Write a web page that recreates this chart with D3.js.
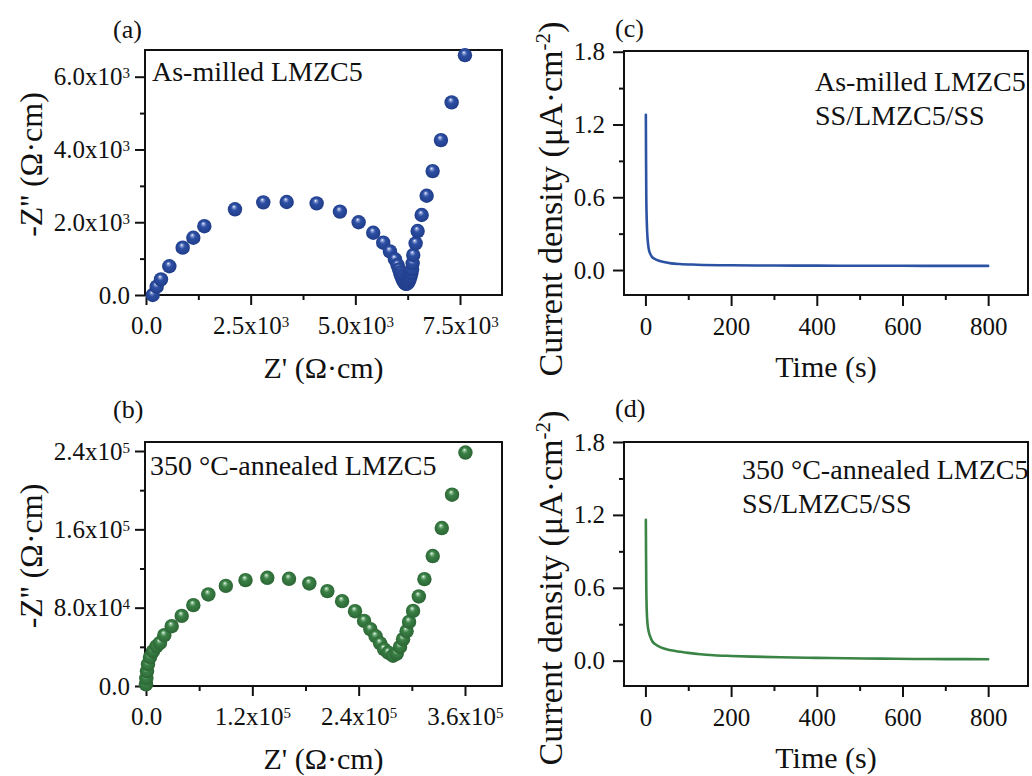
<!DOCTYPE html>
<html>
<head>
<meta charset="utf-8">
<script src="https://cdn.jsdelivr.net/npm/d3@7"></script>
<style>
  html, body { margin: 0; padding: 0; background: #fff; }
  svg { display: block; }
  text { font-family: "Liberation Serif", "Times New Roman", serif; fill: #111; }
</style>
</head>
<body>
<svg id="chart" width="1032" height="776"></svg>
<script>
// ---------------- DATA ----------------
// (a) As-milled LMZC5 Nyquist: [Z', -Z''] in ohm·cm
const nyquistAsMilled = [
  [160, 0], [255, 228], [358, 428], [557, 791], [876, 1301], [1130, 1574], [1393, 1891],
  [2125, 2355], [2801, 2546], [3360, 2557], [4076, 2519], [4632, 2292], [5079, 2000],
  [5427, 1711], [5666, 1438], [5826, 1200], [5946, 982], [6010, 820], [6045, 700],
  [6072, 610], [6092, 540], [6112, 480], [6132, 430], [6152, 385], [6172, 345],
  [6192, 318], [6212, 305], [6232, 312], [6255, 340], [6278, 385], [6298, 440],
  [6318, 510], [6338, 600], [6355, 710], [6369, 871], [6383, 1099], [6440, 1420],
  [6488, 1758], [6584, 2198], [6703, 2728], [6846, 3406], [7045, 4258], [7300, 5294],
  [7618, 6593]
];
// (b) 350 °C-annealed LMZC5 Nyquist: [Z', -Z''] in ohm·cm
const nyquistAnnealed = [
  [0, 1700], [340, 7900], [1130, 15000], [2260, 22200], [4500, 29400], [7900, 35500],
  [11850, 40600], [15800, 44000], [20660, 51870], [29000, 61070], [40300, 71600],
  [53400, 82560], [70330, 93500], [90100, 102300], [112300, 108100], [136900, 110500],
  [161400, 109500], [184300, 104750], [204700, 96900], [221300, 86650], [235900, 76400],
  [246100, 66500], [253200, 58000], [259100, 50840], [264200, 43680], [268700, 37540],
  [273500, 33960], [278800, 30900], [283000, 33150], [286700, 39900], [290100, 47800],
  [294100, 55960], [296900, 65470], [301400, 76700], [307900, 91460], [314200, 109150],
  [323600, 132700], [333800, 161300], [345400, 195400], [360500, 238400]
];
// (c) As-milled: [time s, current density µA·cm-2]
const currentAsMilled = [
  [1, 1.28], [1.5, 0.9], [2, 0.62], [3, 0.42], [4, 0.32], [6, 0.22], [8, 0.17],
  [11, 0.135], [15, 0.11], [20, 0.095], [30, 0.078], [40, 0.068], [60, 0.055],
  [80, 0.049], [120, 0.044], [200, 0.039], [300, 0.037], [400, 0.036], [500, 0.035],
  [600, 0.035], [700, 0.034], [800, 0.034]
];
// (d) 350 °C-annealed
const currentAnnealed = [
  [1, 1.16], [1.5, 0.85], [2, 0.62], [3, 0.42], [5, 0.3], [7, 0.25], [9, 0.22],
  [12, 0.19], [16, 0.16], [21, 0.14], [30, 0.12], [43, 0.1], [60, 0.085], [82, 0.073],
  [100, 0.064], [128, 0.053], [160, 0.045], [200, 0.039], [250, 0.033], [315, 0.028],
  [400, 0.023], [470, 0.02], [550, 0.017], [626, 0.014], [700, 0.013], [800, 0.012]
];

// Tick values and labels
const ticksAx = [0, 2500, 5000, 7500], minorAx = [1250, 3750, 6250];
const labelsAx = [["0.0", ""], ["2.5x10", "3"], ["5.0x10", "3"], ["7.5x10", "3"]];
const ticksAy = [0, 2000, 4000, 6000], minorAy = [1000, 3000, 5000];
const labelsAy = [["0.0", ""], ["2.0x10", "3"], ["4.0x10", "3"], ["6.0x10", "3"]];
const ticksBx = [0, 120000, 240000, 360000], minorBx = [60000, 180000, 300000];
const labelsBx = [["0.0", ""], ["1.2x10", "5"], ["2.4x10", "5"], ["3.6x10", "5"]];
const ticksBy = [0, 80000, 160000, 240000], minorBy = [40000, 120000, 200000];
const labelsBy = [["0.0", ""], ["8.0x10", "4"], ["1.6x10", "5"], ["2.4x10", "5"]];
const ticksTx = [0, 200, 400, 600, 800], minorTx = [100, 300, 500, 700];
const labelsTx = [["0", ""], ["200", ""], ["400", ""], ["600", ""], ["800", ""]];
const ticksJy = [0, 0.6, 1.2, 1.8], minorJy = [0.3, 0.9, 1.5];
const labelsJy = [["0.0", ""], ["0.6", ""], ["1.2", ""], ["1.8", ""]];

// ---------------- DRAW ----------------
const svg = d3.select("#chart");
const defs = svg.append("defs");

function sphereGrad(id, light, base, dark) {
  const g = defs.append("radialGradient").attr("id", id)
    .attr("cx", "0.5").attr("cy", "0.5").attr("r", "0.55")
    .attr("fx", "0.42").attr("fy", "0.3");
  g.append("stop").attr("offset", "0%").attr("stop-color", "#ffffff");
  g.append("stop").attr("offset", "14%").attr("stop-color", light);
  g.append("stop").attr("offset", "38%").attr("stop-color", base);
  g.append("stop").attr("offset", "100%").attr("stop-color", dark);
}
sphereGrad("gBlue", "#8ea2d8", "#2d4fa3", "#1e3a85");
sphereGrad("gGreen", "#93c39a", "#3a8045", "#2a6233");

function labelText(sel, labels, ticks, supSize) {
  sel.selectAll(".tick text").each(function(d) {
    const i = ticks.indexOf(d);
    const t = d3.select(this).text("");
    t.append("tspan").text(labels[i][0]);
    if (labels[i][1]) {
      t.append("tspan").attr("dy", "-0.45em").attr("font-size", supSize).text(labels[i][1]);
    }
  });
}

function panel(cfg) {
  const g = svg.append("g");
  const x = d3.scaleLinear().domain(cfg.xDomain).range([cfg.left, cfg.right]);
  const y = d3.scaleLinear().domain(cfg.yDomain).range([cfg.bottom, cfg.top]);

  // x axis major
  const gx = g.append("g").attr("transform", `translate(0,${cfg.bottom})`)
    .call(d3.axisBottom(x).tickValues(cfg.xTicks).tickSize(cfg.tickLen).tickPadding(8));
  gx.select(".domain").remove();
  gx.selectAll(".tick line").attr("stroke", "#111").attr("stroke-width", 2);
  gx.selectAll(".tick text").attr("font-size", 25).attr("fill", "#111")
    .attr("y", cfg.xLabelY).attr("dy", 0);
  labelText(gx, cfg.xLabels, cfg.xTicks, 15);
  const gxm = g.append("g").attr("transform", `translate(0,${cfg.bottom})`)
    .call(d3.axisBottom(x).tickValues(cfg.xMinor).tickSize(5).tickFormat(""));
  gxm.select(".domain").remove();
  gxm.selectAll(".tick line").attr("stroke", "#111").attr("stroke-width", 2);

  // y axis major
  const gy = g.append("g").attr("transform", `translate(${cfg.left},0)`)
    .call(d3.axisLeft(y).tickValues(cfg.yTicks).tickSize(cfg.tickLen).tickPadding(cfg.yPad));
  gy.select(".domain").remove();
  gy.selectAll(".tick line").attr("stroke", "#111").attr("stroke-width", 2);
  gy.selectAll(".tick text").attr("font-size", 25).attr("fill", "#111");
  labelText(gy, cfg.yLabels, cfg.yTicks, 15);
  const gym = g.append("g").attr("transform", `translate(${cfg.left},0)`)
    .call(d3.axisLeft(y).tickValues(cfg.yMinor).tickSize(5).tickFormat(""));
  gym.select(".domain").remove();
  gym.selectAll(".tick line").attr("stroke", "#111").attr("stroke-width", 2);

  // frame
  g.append("rect").attr("x", cfg.left).attr("y", cfg.top)
    .attr("width", cfg.right - cfg.left).attr("height", cfg.bottom - cfg.top)
    .attr("fill", "none").attr("stroke", "#111").attr("stroke-width", 2);

  // data
  if (cfg.type === "scatter") {
    g.append("g").selectAll("circle").data(cfg.data).join("circle")
      .attr("cx", d => x(d[0])).attr("cy", d => y(d[1])).attr("r", 7.2)
      .attr("fill", `url(#${cfg.grad})`);
  } else {
    const line = d3.line().x(d => x(d[0])).y(d => y(d[1])).curve(d3.curveMonotoneX);
    g.append("path").datum(cfg.data).attr("d", line)
      .attr("fill", "none").attr("stroke", cfg.color).attr("stroke-width", 2.6)
      .attr("stroke-linejoin", "round").attr("stroke-linecap", "round");
  }

  // panel label
  g.append("text").attr("x", cfg.tagX).attr("y", cfg.tagY).attr("font-size", 26).text(cfg.tag);

  // annotations
  cfg.notes.forEach((n, i) => {
    g.append("text").attr("x", cfg.noteX).attr("y", cfg.noteY + i * 34)
      .attr("font-size", 28).text(n);
  });

  // x title
  g.append("text").attr("x", (cfg.left + cfg.right) / 2).attr("y", cfg.xTitleY)
    .attr("text-anchor", "middle").attr("font-size", 30).text(cfg.xTitle);

  // y title
  const yt = g.append("text")
    .attr("transform", `translate(${cfg.yTitleX},${(cfg.top + cfg.bottom) / 2 + cfg.yTitleShift}) rotate(-90)`)
    .attr("text-anchor", "middle").attr("font-size", cfg.yTitleSize);
  cfg.yTitle.forEach(part => {
    const s = yt.append("tspan").text(part[0]);
    if (part[1] === "sup") s.attr("font-size", cfg.yTitleSize * 0.62).attr("dy", "-0.55em");
    if (part[1] === "down") s.attr("dy", "0.34em");
  });
}

panel({
  type: "scatter", data: nyquistAsMilled, grad: "gBlue",
  left: 145, right: 502, top: 50, bottom: 295,
  xDomain: [-24, 8503], yDomain: [0, 6734],
  xTicks: ticksAx, xMinor: minorAx, xLabels: labelsAx,
  yTicks: ticksAy, yMinor: minorAy, yLabels: labelsAy,
  tickLen: 10, yPad: 5, xLabelY: 39,
  tag: "(a)", tagX: 113, tagY: 38,
  notes: ["As-milled LMZC5"], noteX: 152, noteY: 81,
  xTitle: "Z' (\u03A9\u00B7cm)", xTitleY: 378,
  yTitle: [["-Z'' (\u03A9\u00B7cm)", ""]], yTitleX: 42, yTitleSize: 32, yTitleShift: -8
});

panel({
  type: "scatter", data: nyquistAnnealed, grad: "gGreen",
  left: 145, right: 502, top: 442, bottom: 686,
  xDomain: [-1129, 401760], yDomain: [0, 249200],
  xTicks: ticksBx, xMinor: minorBx, xLabels: labelsBx,
  yTicks: ticksBy, yMinor: minorBy, yLabels: labelsBy,
  tickLen: 10, yPad: 5, xLabelY: 39,
  tag: "(b)", tagX: 113, tagY: 418,
  notes: ["350 \u00B0C-annealed LMZC5"], noteX: 150, noteY: 475,
  xTitle: "Z' (\u03A9\u00B7cm)", xTitleY: 769,
  yTitle: [["-Z'' (\u03A9\u00B7cm)", ""]], yTitleX: 42, yTitleSize: 32, yTitleShift: -8
});

panel({
  type: "line", data: currentAsMilled, color: "#2c52a3",
  left: 624, right: 1028, top: 51, bottom: 295,
  xDomain: [-50, 893], yDomain: [-0.206, 1.806],
  xTicks: ticksTx, xMinor: minorTx, xLabels: labelsTx,
  yTicks: ticksJy, yMinor: minorJy, yLabels: labelsJy,
  tickLen: 11, yPad: 8, xLabelY: 40,
  tag: "(c)", tagX: 615, tagY: 37,
  notes: ["As-milled LMZC5", "SS/LMZC5/SS"], noteX: 815, noteY: 91,
  xTitle: "Time (s)", xTitleY: 377,
  yTitle: [["Current density (\u03BCA\u00B7cm", ""], ["-2", "sup"], [")", "down"]],
  yTitleX: 562, yTitleSize: 34, yTitleShift: 26
});

panel({
  type: "line", data: currentAnnealed, color: "#3a8446",
  left: 624, right: 1028, top: 442, bottom: 686,
  xDomain: [-50, 893], yDomain: [-0.2085, 1.8],
  xTicks: ticksTx, xMinor: minorTx, xLabels: labelsTx,
  yTicks: ticksJy, yMinor: minorJy, yLabels: labelsJy,
  tickLen: 11, yPad: 8, xLabelY: 40,
  tag: "(d)", tagX: 615, tagY: 417,
  notes: ["350 \u00B0C-annealed LMZC5", "SS/LMZC5/SS"], noteX: 742, noteY: 479,
  xTitle: "Time (s)", xTitleY: 768,
  yTitle: [["Current density (\u03BCA\u00B7cm", ""], ["-2", "sup"], [")", "down"]],
  yTitleX: 562, yTitleSize: 34, yTitleShift: 24
});
</script>
</body>
</html>
